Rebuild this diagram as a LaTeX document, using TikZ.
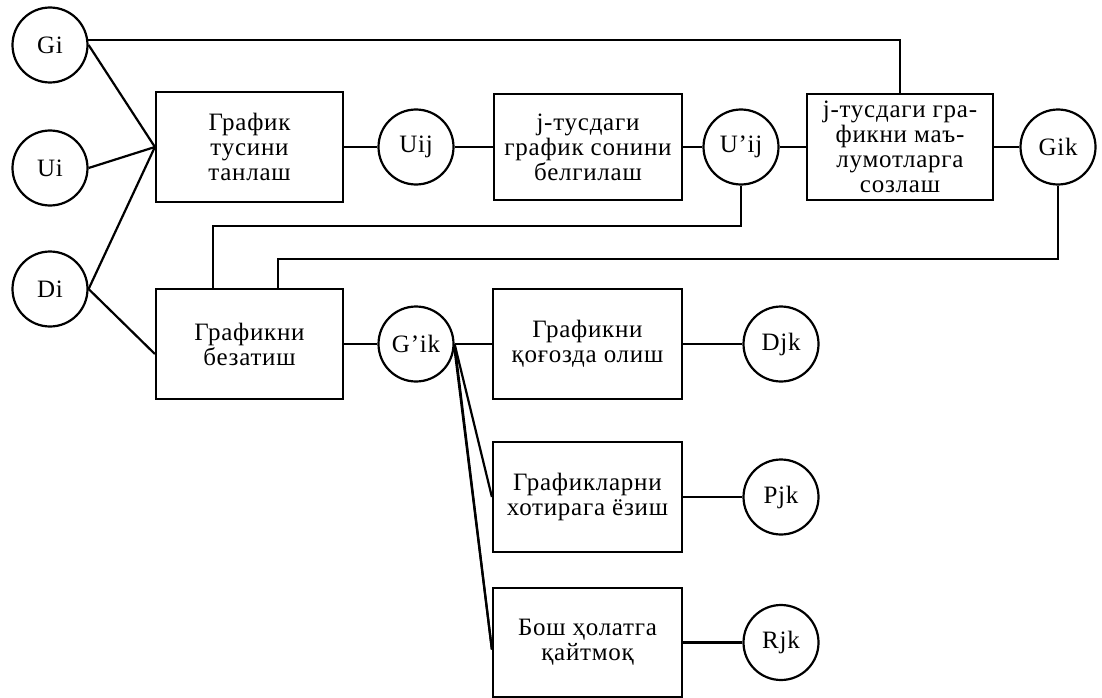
\documentclass[tikz,border=0pt]{standalone}
\usepackage{fontspec}
\setmainfont{Liberation Serif}[LetterSpace=3]
\begin{document}
\begin{tikzpicture}[x=1pt,y=-1pt,
  box/.style={draw, line width=2.2pt, inner sep=0pt, align=center,
    font=\fontsize{25}{25}\selectfont},
  circ/.style={draw, circle, line width=2.2pt, minimum size=75pt, inner sep=0pt,
    font=\fontsize{25}{25}\selectfont},
  conn/.style={draw, line width=2.2pt}]
\useasboundingbox (0,0) rectangle (1102,698);
% top row
\node[circ] (Gi) at (50,45) {Gi};
\node[circ] (Ui) at (50,168) {Ui};
\node[circ] (Di) at (50,289) {Di};
\node[box, minimum width=187pt, minimum height=110pt] (b1) at (249.5,147) {График\\тусини\\танлаш};
\node[circ] (Uij) at (416,147) {Uij};
\node[box, minimum width=188pt, minimum height=106pt] (b2) at (588,147) {j-тусдаги\\график сонини\\белгилаш};
\node[circ] (Upij) at (741,147) {U’ij};
\node[box, minimum width=186pt, minimum height=106pt] (b3) at (900,147) {j-тусдаги гра-\\фикни маъ-\\лумотларга\\созлаш};
\node[circ] (Gik) at (1058,147) {Gik};
% second row
\node[box, minimum width=187pt, minimum height=110pt] (b4) at (249.5,344) {Графикни\\безатиш};
\node[circ] (Gpik) at (416,344) {G’ik};
\node[box, minimum width=189pt, minimum height=110pt] (b5) at (587.5,344) {Графикни\\қоғозда олиш};
\node[circ] (Djk) at (781,344) {Djk};
\node[box, minimum width=189pt, minimum height=110pt] (b6) at (587.5,497) {Графикларни\\хотирага ёзиш};
\node[circ] (Pjk) at (781,497) {Pjk};
\node[box, minimum width=189pt, minimum height=109pt] (b7) at (587.5,642.5) {Бош ҳолатга\\қайтмоқ};
\node[circ] (Rjk) at (781,642.5) {Rjk};
\coordinate (k1) at (213,226);
\coordinate (k2) at (278,259);
% connectors
\draw[conn] (Gi.east) -- (b1.west);
\draw[conn] (Ui.east) -- (b1.west);
\draw[conn] (Di.east) -- (b1.west);
\draw[conn] (Di.east) -- ([yshift=-10pt]b4.west);
\draw[conn] (Gi.8) -| (b3.north);
\draw[conn] (b1.east) -- (Uij.west);
\draw[conn] (Uij.east) -- (b2.west);
\draw[conn] (b2.east) -- (Upij.west);
\draw[conn] (Upij.east) -- (b3.west);
\draw[conn] (b3.east) -- (Gik.west);
\draw[conn] (Upij.south) |- (k1) -- (k1 |- b4.north);
\draw[conn] (Gik.south) |- (k2) -- (k2 |- b4.north);
\draw[conn] (b4.east) -- (Gpik.west);
\draw[conn] (Gpik.east) -- (b5.west);
\draw[conn] (b5.east) -- (Djk.west);
\draw[conn] (Gpik.east) -- (b6.west);
\draw[conn] (Gpik.east) -- ([yshift=-7pt]b7.west);
\draw[conn] (Gpik.-6) -- ([yshift=-7pt]b7.west);
\draw[conn] (b6.east) -- (Pjk.west);
\draw[conn] (b7.east) -- (Rjk.west);
\end{tikzpicture}
\end{document}
